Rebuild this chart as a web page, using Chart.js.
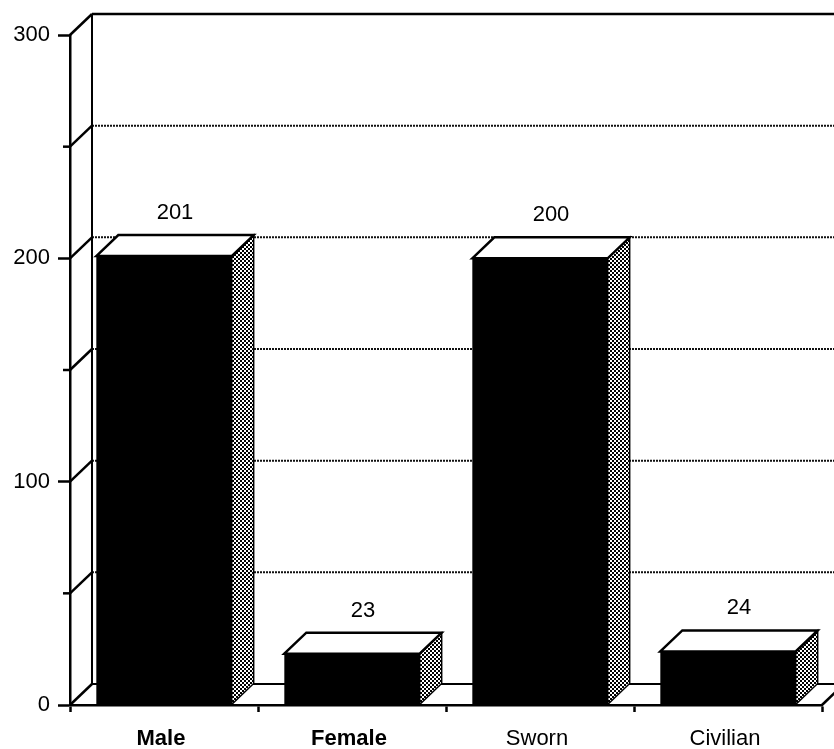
<!DOCTYPE html>
<html>
<head>
<meta charset="utf-8">
<script src="https://cdn.jsdelivr.net/npm/chart.js@4/dist/chart.umd.min.js"></script>
<style>
  html, body { margin: 0; padding: 0; background: #fff; }
  canvas { display: block; }
</style>
</head>
<body>
<canvas id="chart" width="834" height="749"></canvas>
<script>
// Personnel counts by group
const categories = ['Male', 'Female', 'Sworn', 'Civilian'];
const counts = [201, 23, 200, 24];
const boldCategories = ['Male', 'Female'];
const axisMin = 0;
const axisMax = 300;
const tickStep = 50;
const labelledStep = 100;

// Depth of the pseudo-3D box (pixels to the back plane)
const DX = 22, DY = 21;
const FONT = '"Liberation Sans", Arial, Helvetica, sans-serif';

function stipplePattern(ctx) {
  const c = document.createElement('canvas');
  c.width = 4; c.height = 4;
  const g = c.getContext('2d');
  g.fillStyle = '#fff';
  g.fillRect(0, 0, 4, 4);
  g.fillStyle = '#000';
  g.fillRect(0, 0, 2, 2);
  g.fillRect(2, 2, 2, 2);
  return ctx.createPattern(c, 'repeat');
}

const box3d = {
  id: 'box3d',
  beforeDatasetsDraw(chart) {
    const { ctx, chartArea: a, scales: { y } } = chart;
    const right = chart.width + DX;
    ctx.save();
    ctx.strokeStyle = '#000';
    ctx.lineCap = 'butt';

    // back wall gridlines
    for (let v = axisMin + tickStep; v < axisMax; v += tickStep) {
      const py = y.getPixelForValue(v) - DY;
      ctx.setLineDash([2, 1]);
      ctx.lineWidth = 2;
      ctx.strokeStyle = '#111';
      ctx.beginPath();
      ctx.moveTo(a.left + DX, py);
      ctx.lineTo(right, py);
      ctx.stroke();
    }
    ctx.setLineDash([]);
    ctx.strokeStyle = '#000';

    // back wall top edge and floor back edge
    ctx.lineWidth = 2.5;
    ctx.beginPath();
    ctx.moveTo(a.left + DX, y.getPixelForValue(axisMax) - DY);
    ctx.lineTo(right, y.getPixelForValue(axisMax) - DY);
    ctx.stroke();
    ctx.lineWidth = 2;
    ctx.beginPath();
    ctx.moveTo(a.left + DX, y.getPixelForValue(axisMin) - DY);
    ctx.lineTo(right, y.getPixelForValue(axisMin) - DY);
    ctx.stroke();

    // left wall: back edge and diagonals at every tick
    ctx.lineWidth = 2;
    ctx.beginPath();
    ctx.moveTo(a.left + DX, y.getPixelForValue(axisMax) - DY);
    ctx.lineTo(a.left + DX, y.getPixelForValue(axisMin) - DY);
    ctx.stroke();
    ctx.lineWidth = 2.5;
    for (let v = axisMin; v <= axisMax; v += tickStep) {
      const py = y.getPixelForValue(v);
      ctx.beginPath();
      ctx.moveTo(a.left, py);
      ctx.lineTo(a.left + DX, py - DY);
      ctx.stroke();
      if (v % labelledStep !== 0) {
        ctx.beginPath();
        ctx.moveTo(a.left - 7, py);
        ctx.lineTo(a.left, py);
        ctx.stroke();
      }
    }
    // floor right edge
    ctx.beginPath();
    ctx.moveTo(a.right, a.bottom);
    ctx.lineTo(a.right + DX, a.bottom - DY);
    ctx.stroke();
    ctx.restore();
  },
  afterDatasetsDraw(chart) {
    const { ctx } = chart;
    const meta = chart.getDatasetMeta(0);
    const pattern = stipplePattern(ctx);
    ctx.save();
    ctx.strokeStyle = '#000';
    ctx.lineJoin = 'miter';
    meta.data.forEach((bar, i) => {
      const { x, y, base, width } = bar.getProps(['x', 'y', 'base', 'width'], true);
      const l = x - width / 2, r = x + width / 2;

      // side face
      ctx.beginPath();
      ctx.moveTo(r, y);
      ctx.lineTo(r + DX, y - DY);
      ctx.lineTo(r + DX, base - DY);
      ctx.lineTo(r, base);
      ctx.closePath();
      ctx.fillStyle = pattern;
      ctx.fill();
      ctx.lineWidth = 1.5;
      ctx.stroke();

      // top face
      ctx.beginPath();
      ctx.moveTo(l, y);
      ctx.lineTo(l + DX, y - DY);
      ctx.lineTo(r + DX, y - DY);
      ctx.lineTo(r, y);
      ctx.closePath();
      ctx.fillStyle = '#fff';
      ctx.fill();
      ctx.lineWidth = 2.5;
      ctx.stroke();

      // value label
      ctx.fillStyle = '#000';
      ctx.font = '22px ' + FONT;
      ctx.textAlign = 'center';
      ctx.textBaseline = 'middle';
      ctx.fillText(String(counts[i]), x + DX / 2, y - DY - 22);
    });
    ctx.restore();
  }
};

new Chart(document.getElementById('chart'), {
  type: 'bar',
  data: {
    labels: categories,
    datasets: [{
      data: counts,
      backgroundColor: '#000',
      borderWidth: 0,
      barPercentage: 0.72,
      categoryPercentage: 1
    }]
  },
  options: {
    responsive: false,
    animation: false,
    devicePixelRatio: 1,
    layout: { padding: { top: 35, right: 12, left: 0, bottom: 0 } },
    plugins: { legend: { display: false }, tooltip: { enabled: false } },
    scales: {
      x: {
        type: 'category',
        offset: true,
        z: 1,
        grid: { offset: true, drawOnChartArea: false, drawTicks: true, tickLength: 7, tickColor: '#000', tickWidth: 2.5 },
        border: { display: true, color: '#000', width: 2.5 },
        ticks: {
          color: '#000',
          font: c => ({
            family: FONT,
            size: 22,
            weight: boldCategories.includes(categories[c.index]) ? 'bold' : 'normal'
          }),
          padding: 14,
          labelOffset: -3
        },
        afterFit(s) { s.height = 44; }
      },
      y: {
        min: axisMin,
        max: axisMax,
        grid: {
          drawOnChartArea: false,
          tickLength: 12,
          tickWidth: 2.5,
          tickColor: c => (c.tick && c.tick.value % labelledStep === 0) ? '#000' : 'rgba(0,0,0,0)'
        },
        border: { display: true, color: '#000', width: 2.5 },
        ticks: {
          stepSize: tickStep,
          color: '#000',
          padding: 8,
          font: { family: FONT, size: 22 },
          callback: v => (v % labelledStep === 0 ? String(v) : '')
        },
        afterFit(s) { s.width = 70; }
      }
    }
  },
  plugins: [box3d]
});
</script>
</body>
</html>
